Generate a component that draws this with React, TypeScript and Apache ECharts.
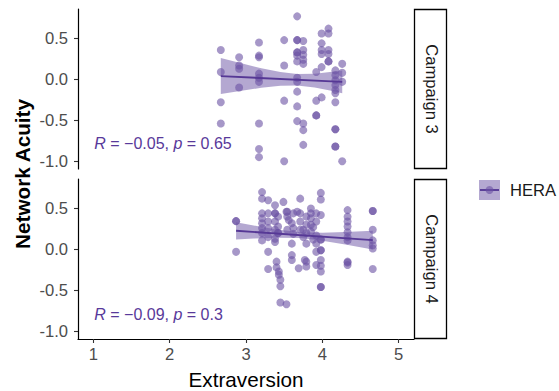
import React, { useEffect, useRef } from "react";
import * as echarts from "echarts";

const panels = ["Campaign 3", "Campaign 4"];
const groupName = "HERA";

const xTicks = [1, 2, 3, 4, 5];
const yTicks = [-1, -0.5, 0, 0.5];

// Campaign 3 points
const extraversion3 = [
  2.67, 2.67, 2.67, 2.67,
  2.91, 2.91, 2.91, 2.91,
  3.17, 3.17, 3.17, 3.17, 3.17, 3.17, 3.17, 3.17, 3.17,
  3.5, 3.5, 3.5, 3.5,
  3.67, 3.67, 3.67, 3.67, 3.67, 3.67, 3.67, 3.67, 3.67, 3.67, 3.67, 3.67,
  3.75, 3.75, 3.75, 3.75, 3.75, 3.75, 3.75, 3.75,
  3.92, 3.92, 3.92, 3.92,
  3.99, 3.99, 3.99, 3.99, 3.99, 3.99,
  4.08, 4.08, 4.08, 4.08, 4.08, 4.08,
  4.17, 4.17, 4.17, 4.17, 4.17, 4.17, 4.17, 4.17, 4.17, 4.17, 4.17,
  4.26, 4.26, 4.26, 4.26,
];
const acuity3 = [
  0.36, 0.09, -0.28, -0.54,
  0.27, 0.17, 0.13, -0.1,
  0.45, 0.29, 0.27, 0.07, 0.02, -0.03, -0.54, -0.85, -0.95,
  0.48, 0.17, -0.26, -1.0,
  0.77, 0.48, 0.48, 0.33, 0.33, 0.29, 0.22, 0.02, -0.03, -0.15, -0.33, -0.51,
  0.47, 0.36, 0.3, 0.24, 0.19, -0.54, -0.62, -0.8,
  0.09, -0.26, -0.44, -0.44,
  0.56, 0.44, 0.36, 0.31, 0.15, -0.22,
  0.62, 0.56, 0.36, 0.31, 0.22, 0.22,
  0.11, 0.05, -0.01, -0.07, -0.13, -0.17, -0.28, -0.61, -0.61, -0.82, -0.82,
  0.19, 0.08, -0.03, -1.0,
];

// Campaign 4 points
const extraversion4 = [
  2.87, 2.87, 2.87,
  3.21, 3.21, 3.21, 3.21, 3.21, 3.21, 3.21, 3.21,
  3.29, 3.29, 3.29, 3.29, 3.29, 3.29, 3.29,
  3.38, 3.38, 3.38, 3.38, 3.38, 3.38, 3.38,
  3.4, 3.4,
  3.42, 3.42, 3.42, 3.42,
  3.43, 3.43,
  3.45, 3.45, 3.45,
  3.49,
  3.53, 3.53,
  3.54, 3.54, 3.54,
  3.56,
  3.6, 3.6, 3.6, 3.6,
  3.62, 3.62, 3.62,
  3.67,
  3.69,
  3.71, 3.71, 3.71, 3.71,
  3.75, 3.75,
  3.77,
  3.79, 3.79, 3.79, 3.79, 3.79, 3.79,
  3.85, 3.85, 3.85, 3.85, 3.85,
  3.88, 3.88,
  3.92, 3.92, 3.92, 3.92, 3.92, 3.92,
  3.98, 3.98, 3.98, 3.98, 3.98, 3.98, 3.98, 3.98, 3.98, 3.98, 3.98, 3.98,
  4.33, 4.33, 4.33, 4.33, 4.33, 4.33, 4.33, 4.33, 4.33, 4.33,
  4.66, 4.66, 4.66, 4.66, 4.66, 4.66, 4.66,
];
const acuity4 = [
  0.345, 0.345, -0.03,
  0.7, 0.62, 0.44, 0.38, 0.32, 0.26, 0.2, 0.11,
  0.6, 0.44, 0.34, 0.26, 0.15, -0.03, -0.24,
  0.54, 0.44, 0.44, 0.34, 0.24, 0.13, 0.09,
  -0.15, -0.22,
  0.4, 0.28, 0.2, 0.2,
  -0.27, -0.31,
  -0.37, -0.45, -0.65,
  0.58,
  0.46, -0.67,
  0.46, 0.4, 0.24,
  0.36,
  0.32, 0.07, -0.07, -0.13,
  0.44, 0.26, 0.19,
  0.46,
  -0.23,
  0.62, 0.44, 0.34, 0.24,
  0.24, 0.15,
  -0.13,
  0.4, 0.3, 0.2, 0.07, -0.15, -0.21,
  0.5, 0.44, 0.38, 0.3, 0.22,
  0.12, 0.27,
  0.44, 0.34, 0.17, 0.07, -0.03, -0.19,
  0.69, 0.61, 0.42, 0.12, 0.12, -0.01, -0.01, -0.13, -0.2, -0.27, -0.46, -0.46,
  0.48, 0.4, 0.34, 0.28, 0.21, 0.15, 0.11, -0.15, -0.19, -0.16,
  0.47, 0.47, 0.24, 0.11, 0.05, 0.01, -0.24,
];

// Fitted lines and confidence bands
const fit3X = [2.67, 4.26];
const fit3Y = [0.04, -0.03];
const band3X = [2.67, 2.9, 3.2, 3.45, 3.67, 3.9, 4.1, 4.26];
const band3Lo = [-0.18, -0.145, -0.103, -0.079, -0.074, -0.1, -0.137, -0.17];
const band3Hi = [0.26, 0.205, 0.137, 0.089, 0.066, 0.07, 0.091, 0.11];

const fit4X = [2.87, 4.66];
const fit4Y = [0.227, 0.113];
const band4X = [2.87, 3.1, 3.4, 3.72, 4.0, 4.3, 4.66];
const band4Lo = [0.122, 0.132, 0.142, 0.138, 0.107, 0.06, -0.002];
const band4Hi = [0.332, 0.292, 0.244, 0.208, 0.203, 0.212, 0.228];

const corR = [-0.05, -0.09];
const corP = [0.65, 0.3];
const annotX = [1, 1];
const annotY = [-0.78, -0.8];

const PURPLE = "#6a51a3";
const TEXT_PURPLE = "#58399a";
const LINE = "#563895";
const FONT = "'Liberation Sans', Arial, Helvetica, sans-serif";

export default function App() {
  const ref = useRef<HTMLDivElement>(null);

  useEffect(() => {
    if (!ref.current) return;
    const chart = echarts.init(ref.current, undefined, { renderer: "svg" });

    const grids = [
      { left: 78, top: 9, width: 336, height: 160 },
      { left: 78, top: 179, width: 336, height: 160 },
    ];

    const pts = [
      extraversion3.map((x, i) => [x, acuity3[i]]),
      extraversion4.map((x, i) => [x, acuity4[i]]),
    ];
    const bands = [
      { x: band3X, lo: band3Lo, hi: band3Hi },
      { x: band4X, lo: band4Lo, hi: band4Hi },
    ];
    const fits = [
      fit3X.map((x, i) => [x, fit3Y[i]]),
      fit4X.map((x, i) => [x, fit4Y[i]]),
    ];

    const axisText = { color: "#4d4d4d", fontSize: 16.6, fontFamily: FONT };

    const xAxes = [0, 1].map((i) => ({
      type: "value",
      gridIndex: i,
      min: 0.8,
      max: 5.2,
      splitLine: { show: false },
      axisLine: { show: i === 1, onZero: false, lineStyle: { color: "#000", width: 1.2 } },
      axisTick: {
        show: i === 1,
        customValues: xTicks,
        length: 4,
        lineStyle: { color: "#333", width: 1.1 },
      },
      axisLabel: {
        show: i === 1,
        customValues: xTicks,
        margin: 7,
        ...axisText,
        formatter: (v: number) => String(v),
      },
    }));

    const yAxes = [0, 1].map((i) => ({
      type: "value",
      gridIndex: i,
      min: -1.095,
      max: 0.86,
      splitLine: { show: false },
      axisLine: { show: true, onZero: false, lineStyle: { color: "#000", width: 1.2 } },
      axisTick: {
        show: true,
        customValues: yTicks,
        length: 4,
        lineStyle: { color: "#333", width: 1.1 },
      },
      axisLabel: {
        customValues: yTicks,
        margin: 10,
        ...axisText,
        formatter: (v: number) => v.toFixed(1),
      },
    }));

    const series: any[] = [];
    [0, 1].forEach((i) => {
      series.push({
        type: "scatter",
        xAxisIndex: i,
        yAxisIndex: i,
        data: pts[i],
        symbolSize: 8,
        itemStyle: { color: PURPLE, opacity: 0.6 },
        silent: true,
      });
      const b = bands[i];
      series.push({
        type: "custom",
        xAxisIndex: i,
        yAxisIndex: i,
        data: [[b.x[0], b.lo[0]]],
        silent: true,
        renderItem: (params: any, api: any) => {
          const up = b.x.map((x, k) => api.coord([x, b.hi[k]]));
          const down = b.x.map((x, k) => api.coord([x, b.lo[k]])).reverse();
          return {
            type: "polygon",
            shape: { points: up.concat(down) },
            style: { fill: PURPLE, opacity: 0.5 },
          };
        },
      });
      series.push({
        type: "line",
        xAxisIndex: i,
        yAxisIndex: i,
        data: fits[i],
        symbol: "none",
        lineStyle: { color: LINE, width: 1.9 },
        silent: true,
      });
      const r = corR[i];
      const rStr = (r < 0 ? "\u2212" : "") + Math.abs(r).toString();
      series.push({
        type: "scatter",
        xAxisIndex: i,
        yAxisIndex: i,
        data: [[annotX[i], annotY[i]]],
        symbolSize: 0,
        silent: true,
        itemStyle: { color: "transparent" },
        label: {
          show: true,
          position: "right",
          distance: 1,
          opacity: 1,
          formatter: `{i|R} {n|= ${rStr}, }{i|p} {n|= ${corP[i]}}`,
          color: TEXT_PURPLE,
          fontSize: 16,
          fontFamily: FONT,
          rich: {
            i: { fontStyle: "italic", color: TEXT_PURPLE, fontSize: 16, fontFamily: FONT },
            n: { color: TEXT_PURPLE, fontSize: 16, fontFamily: FONT },
          },
        },
      });
    });

    const graphic: any[] = [];
    grids.forEach((g, i) => {
      graphic.push({
        type: "rect",
        shape: { x: 414.5, y: g.top + 0.5, width: 32, height: g.height - 1 },
        style: { fill: "#fff", stroke: "#000", lineWidth: 1.3 },
      });
      graphic.push({
        type: "text",
        x: 431,
        y: g.top + g.height / 2,
        rotation: -Math.PI / 2,
        style: {
          text: panels[i],
          fill: "#1a1a1a",
          fontSize: 16.6,
          fontFamily: FONT,
          align: "center",
          verticalAlign: "middle",
        },
      });
    });
    graphic.push({
      type: "text",
      x: 22,
      y: 174,
      rotation: Math.PI / 2,
      style: {
        text: "Network Acuity",
        fill: "#000",
        fontSize: 20.7,
        fontWeight: "bold",
        fontFamily: FONT,
        align: "center",
        verticalAlign: "middle",
      },
    });
    graphic.push({
      type: "text",
      x: 246,
      y: 379,
      style: {
        text: "Extraversion",
        fill: "#000",
        fontSize: 20.7,
        fontFamily: FONT,
        align: "center",
        verticalAlign: "middle",
      },
    });
    // legend
    graphic.push({
      type: "rect",
      shape: { x: 479, y: 180, width: 21, height: 20 },
      style: { fill: PURPLE, opacity: 0.5 },
    });
    graphic.push({
      type: "line",
      shape: { x1: 480, y1: 190, x2: 499, y2: 190 },
      style: { stroke: LINE, lineWidth: 1.9 },
    });
    graphic.push({
      type: "circle",
      shape: { cx: 489.5, cy: 190, r: 4 },
      style: { fill: PURPLE, opacity: 0.6 },
    });
    graphic.push({
      type: "text",
      x: 510,
      y: 190,
      style: {
        text: groupName,
        fill: "#1a1a1a",
        fontSize: 16.6,
        fontFamily: FONT,
        align: "left",
        verticalAlign: "middle",
      },
    });

    chart.setOption({
      animation: false,
      backgroundColor: "#fff",
      grid: grids,
      xAxis: xAxes,
      yAxis: yAxes,
      series,
      graphic,
    });

    return () => chart.dispose();
  }, []);

  return (
    <div
      ref={ref}
      style={{ position: "fixed", left: 0, top: 0, width: 559, height: 391 }}
    />
  );
}
